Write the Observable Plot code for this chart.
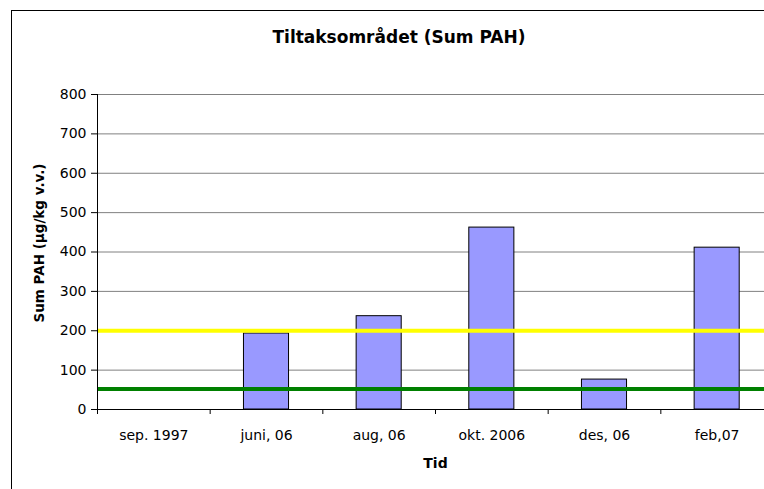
<!DOCTYPE html>
<html>
<head>
<meta charset="utf-8">
<script src="https://cdn.jsdelivr.net/npm/d3@7"></script>
<script src="https://cdn.jsdelivr.net/npm/@observablehq/plot@0.6"></script>
<style>
  html, body { margin: 0; padding: 0; background: #fff; overflow: hidden; }
  #wrap { position: relative; width: 764px; height: 489px; overflow: hidden; background: #fff; font-family: "DejaVu Sans", sans-serif; }
  #border { position: absolute; left: 11px; top: 10px; width: 900px; height: 700px; border: 1.5px solid #000; box-sizing: border-box; }
  #title { position: absolute; left: 11px; width: 776px; top: 27px; text-align: center; font-weight: bold; font-size: 17px; line-height: 20px; color: #000; }
  #chart { position: absolute; left: 0; top: 0; width: 780px; }
  #chart svg { max-width: none !important; }
</style>
</head>
<body>
<div id="wrap">
  <div id="border"></div>
  <div id="title">Tiltaksområdet (Sum PAH)</div>
  <div id="chart"></div>
</div>
<script>
const categories = ["sep. 1997", "juni, 06", "aug, 06", "okt. 2006", "des, 06", "feb,07"];
const values = [null, 193, 237, 462, 76, 411];
const yTicks = [0, 100, 200, 300, 400, 500, 600, 700, 800];
const yellowLimit = 200;
const greenLimit = 52;
const yLabel = "Sum PAH (µg/kg v.v.)";
const xLabel = "Tid";

const data = categories.map((c, i) => ({cat: c, value: values[i]}));
const W = 780, H = 489, mL = 97, mR = 7, mT = 94, mB = 80;
const step = (W - mL - mR) / categories.length;

const chart = Plot.plot({
  width: W,
  height: H,
  marginLeft: mL,
  marginRight: mR,
  marginTop: mT,
  marginBottom: mB,
  style: {fontFamily: "DejaVu Sans, sans-serif", fontSize: "14px", color: "#000", background: "transparent", maxWidth: "none"},
  x: {domain: categories, paddingInner: 0.6, paddingOuter: 0.3, align: 0.5, round: false},
  y: {domain: [0, 800]},
  marks: [
    Plot.gridY(yTicks, {stroke: "#808080", strokeOpacity: 1, strokeWidth: 1}),
    Plot.barY(data.filter(d => d.value != null), {x: "cat", y: "value", fill: "#9999FF", stroke: "#000", strokeWidth: 1}),
    Plot.ruleY([yellowLimit], {stroke: "#FFFF00", strokeWidth: 4}),
    Plot.ruleY([greenLimit], {stroke: "#008000", strokeWidth: 4}),
    Plot.axisY({ticks: yTicks, tickSize: 6, tickPadding: 5, label: null, fontSize: 14}),
    Plot.axisX({tickSize: 0, tickPadding: 21, label: null, fontSize: 14}),
    Plot.axisX({tickSize: 5, tickFormat: () => "", label: null, dx: -step / 2}),
    Plot.ruleY([0], {stroke: "#000", strokeWidth: 1}),
    Plot.frame({anchor: "left", stroke: "#000", strokeWidth: 1}),
    Plot.text([xLabel], {frameAnchor: "bottom", textAnchor: "middle", dy: 58, fontWeight: "bold", fontSize: 14, fill: "#000"}),
    Plot.text([yLabel], {frameAnchor: "left", textAnchor: "middle", dx: -57.5, dy: -9, rotate: -90, fontWeight: "bold", fontSize: 13.5, fill: "#000"})
  ]
});
document.getElementById("chart").appendChild(chart);
</script>
</body>
</html>
